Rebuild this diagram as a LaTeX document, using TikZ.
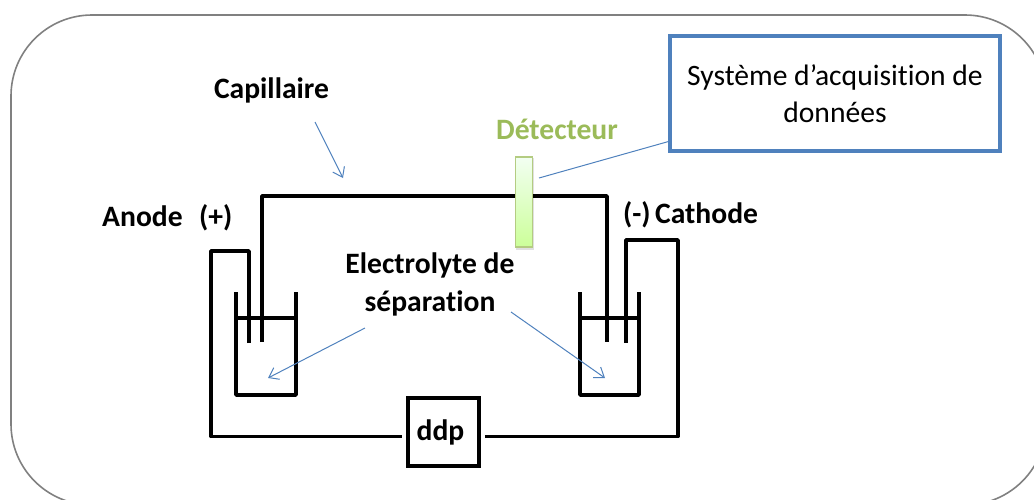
\documentclass[tikz,border=0pt]{standalone}
\usepackage{fontspec}
\setmainfont[Ligatures=NoCommon]{Carlito}
\usetikzlibrary{arrows.meta}
\definecolor{wireblue}{RGB}{79,129,189}
\definecolor{detgreen}{RGB}{155,187,89}
\definecolor{frameg}{RGB}{128,128,128}
\tikzset{
  x=1pt,y=-1pt,
  wire/.style={draw=black,line width=3.6pt,line join=round},
  pointer/.style={draw=wireblue,line width=1pt},
  arrowed/.style={pointer,-{Straight Barb[length=9pt,width=13pt,line width=1pt]}},
  label/.style={font=\bfseries\fontsize{29.6}{38}\selectfont,text=black,inner sep=0pt,align=center}
}
\begin{document}
\begin{tikzpicture}
\useasboundingbox (0,0) rectangle (1034,499);
\clip (0,0) rectangle (1034,499);
\draw[draw=frameg,line width=1.6pt,rounded corners=81pt] (11,15) rectangle (1046,505);
% capillary
\draw[wire] (262,342) -- (262,196) -- (607,196) -- (607,342);
% left beaker
\draw[wire] (236,292) -- (236,395) -- (296,395) -- (296,292);
\draw[wire] (236,318) -- (296,318);
% right beaker
\draw[wire] (580,292) -- (580,395) -- (639,395) -- (639,292);
\draw[wire] (580,318) -- (639,318);
% ddp
\node[draw=black,line width=3.6pt,minimum width=71pt,minimum height=68pt,inner sep=0pt,font=\bfseries\fontsize{29.6}{36}\selectfont] (ddp) at (443.5,432) {\hspace{-6pt}ddp};
% circuit
\draw[wire] (249,343) -- (249,251) -- (211,251) -- (211,436.5) -- ([xshift=-4pt,yshift=-4.5pt]ddp.west);
\draw[wire] ([xshift=4pt,yshift=-4.5pt]ddp.east) -- (678,436.5) -- (678,240) -- (626,240) -- (626,343);
% detector
\fill[black,opacity=.12] (516,158) rectangle (534,250);
\shade[top color=green!5!white,bottom color=green!50!yellow!40!white,draw=detgreen!75!white,line width=1.3pt] (515.5,157) rectangle (532.5,247);
% acquisition box
\node[draw=wireblue,line width=3.4pt,minimum width=330pt,minimum height=115pt,inner sep=0pt,align=center,font=\fontsize{29.6}{37}\selectfont] (sys) at (835,93.5) {Système d’acquisition de\\données};
% labels
\node[label] (cap) at (271.5,90) {Capillaire};
\node[label,text=detgreen] (det) at (557,129) {Détecteur};
\node[label,anchor=base west] (an) at (102,226) {Anode};
\node[label,anchor=base west] (pl) at (199,226) {(+)};
\node[label,anchor=base west] (mi) at (623,223) {(-)};
\node[label,anchor=base west] (ca) at (655,223) {Cathode};
\node[label] (el) at (430,284) {Electrolyte de\\séparation};
% pointers
\coordinate (capA) at (315,122);
\coordinate (capB) at (343,178);
\draw[arrowed] (capA) -- (capB);
\coordinate (detA) at (539,178);
\coordinate (detB) at (668.5,141.5);
\draw[pointer] (detA) -- (detB);
\coordinate (e1) at (365,328);
\coordinate (e1b) at (268,378);
\draw[arrowed] (e1) -- (e1b);
\coordinate (e2) at (511,312);
\coordinate (e2b) at (605,378);
\draw[arrowed] (e2) -- (e2b);
\end{tikzpicture}
\end{document}
